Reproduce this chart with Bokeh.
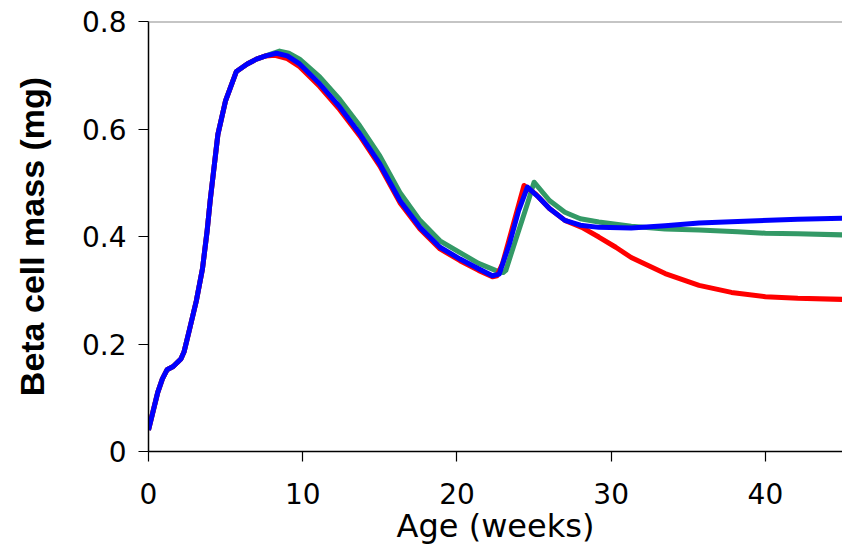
from bokeh.plotting import figure
from bokeh.models import Range1d, FixedTicker, Span
from bokeh.embed import file_html
from bokeh.resources import INLINE

# ---- data ----
early_weeks = [0, 0.3, 0.6, 0.9, 1.2, 1.6, 2.1, 2.3, 2.6, 3.1, 3.5, 3.8, 4.0, 4.5, 5.0, 5.7, 6.4, 7.0, 7.6]
early_mass = [0.040, 0.075, 0.110, 0.135, 0.152, 0.158, 0.172, 0.185, 0.220, 0.280, 0.340, 0.410,
              0.467, 0.590, 0.653, 0.707, 0.721, 0.730, 0.736]

blue_weeks = [8.3, 9.0, 9.8, 11.1, 12.4, 13.7, 15.0, 16.3, 17.6, 18.9, 20.2, 21.4, 22.3, 22.74, 23.4,
              24.0, 24.57, 25.3, 26.0, 27.0, 28.0, 29.2, 31.3, 33.5, 35.7, 38.2, 42.1, 45]
blue_mass = [0.741, 0.736, 0.721, 0.684, 0.641, 0.591, 0.535, 0.467, 0.417, 0.380, 0.358, 0.340,
             0.327, 0.330, 0.386, 0.448, 0.492, 0.473, 0.452, 0.430, 0.421, 0.417, 0.416, 0.420,
             0.425, 0.428, 0.432, 0.434]

green_weeks = [8.5, 9.1, 9.8, 11.1, 12.4, 13.7, 15.0, 16.3, 17.6, 18.9, 20.2, 21.4, 22.5, 23.0, 23.17,
               23.8, 24.57, 25.0, 26.0, 27.0, 28.0, 29.2, 31.3, 33.5, 35.7, 38.2, 40, 42.1, 45]
green_mass = [0.745, 0.741, 0.730, 0.697, 0.655, 0.606, 0.550, 0.482, 0.430, 0.392, 0.370, 0.350,
              0.337, 0.333, 0.337, 0.393, 0.461, 0.501, 0.467, 0.445, 0.433, 0.427, 0.419, 0.414,
              0.412, 0.409, 0.406, 0.405, 0.403]

red_weeks = [8.2, 9.0, 9.8, 11.1, 12.4, 13.7, 15.0, 16.3, 17.6, 18.9, 20.2, 21.4, 22.3, 22.6, 22.95,
             23.6, 24.35, 25.1, 26.0, 27.0, 28.1, 29.2, 30.3, 31.3, 32.4, 33.5, 35.7, 37.8, 40, 42.1, 45]
red_mass = [0.737, 0.731, 0.716, 0.679, 0.636, 0.587, 0.531, 0.463, 0.414, 0.377, 0.355, 0.337,
            0.325, 0.327, 0.349, 0.417, 0.495, 0.479, 0.452, 0.430, 0.417, 0.399, 0.380, 0.361,
            0.346, 0.331, 0.309, 0.296, 0.288, 0.285, 0.283]

x_ticks = [0, 10, 20, 30, 40]
y_ticks = [0, 0.2, 0.4, 0.6, 0.8]
y_tick_labels = ["0", "0.2", "0.4", "0.6", "0.8"]

p = figure(width=842, height=548, output_backend="svg", toolbar_location=None,
           x_range=Range1d(0, 45), y_range=Range1d(0, 0.8),
           min_border_left=148, min_border_right=0, min_border_top=21, min_border_bottom=97)
p.outline_line_color = None
p.background_fill_color = "white"
p.border_fill_color = "white"

series = [
    (green_weeks, green_mass, "#339966"),
    (red_weeks, red_mass, "#FF0000"),
    (blue_weeks, blue_mass, "#0000FF"),
]
for wk, ms, col in series:
    p.line(early_weeks + wk, early_mass + ms, line_color=col, line_width=5, line_join="round")

p.xgrid.visible = False
p.ygrid.visible = False
p.add_layout(Span(location=y_ticks[-1], dimension="width", line_color="#8c8c8c", line_width=2))

p.xaxis.ticker = FixedTicker(ticks=x_ticks)
p.yaxis.ticker = FixedTicker(ticks=y_ticks)
p.yaxis.major_label_overrides = {t: l for t, l in zip(y_ticks, y_tick_labels)}

for ax in (p.xaxis, p.yaxis):
    ax.axis_line_color = "black"
    ax.axis_line_width = 1.5
    ax.major_tick_line_color = "black"
    ax.major_tick_line_width = 1.2
    ax.major_tick_out = 10
    ax.major_tick_in = 0
    ax.minor_tick_line_color = None
    ax.major_label_text_font = "DejaVu Sans"
    ax.major_label_text_font_size = "28px"
    ax.major_label_text_color = "black"
    ax.axis_label_text_color = "black"

p.xaxis.axis_label = "Age (weeks)"
p.xaxis.axis_label_text_font = "DejaVu Sans"
p.xaxis.axis_label_text_font_size = "32px"
p.xaxis.axis_label_text_font_style = "normal"
p.xaxis.major_label_standoff = 21
p.xaxis.axis_label_standoff = 0

p.yaxis.axis_label = "Beta cell mass (mg)"
p.yaxis.axis_label_text_font = "Liberation Sans"
p.yaxis.axis_label_text_font_size = "34px"
p.yaxis.axis_label_text_font_style = "bold"
p.yaxis.major_label_standoff = 12
p.yaxis.axis_label_standoff = 28

open("out.html", "w").write(file_html(p, INLINE))
